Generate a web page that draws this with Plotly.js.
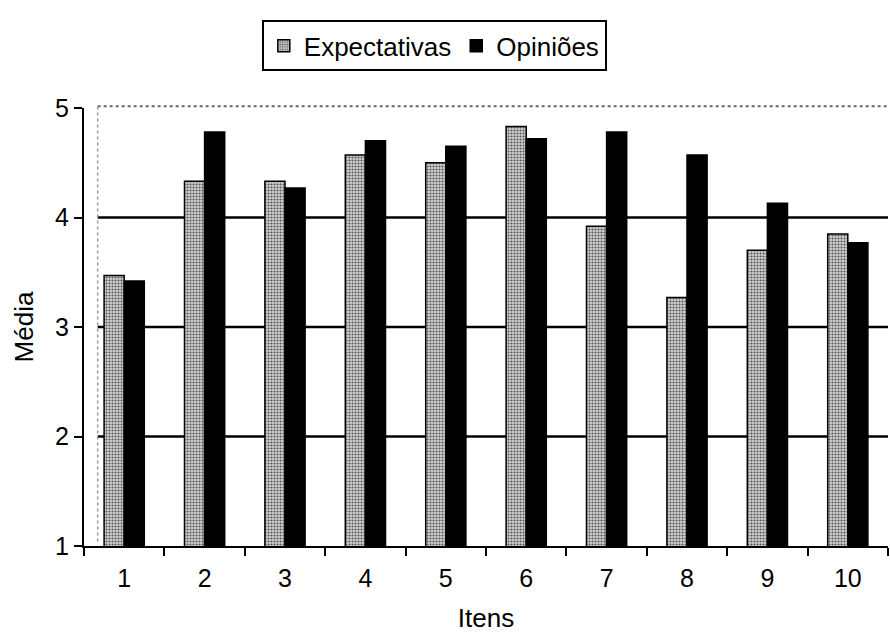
<!DOCTYPE html>
<html>
<head>
<meta charset="utf-8">
<script src="https://cdn.plot.ly/plotly-3.0.1.min.js"></script>
<style>html,body{margin:0;padding:0;background:#fff;}#chart{width:890px;height:633px;}</style>
</head>
<body>
<div id="chart"></div>
<script>
const itens = ["1","2","3","4","5","6","7","8","9","10"];
const expectativas = [3.47, 4.33, 4.33, 4.57, 4.50, 4.83, 3.92, 3.27, 3.70, 3.85];
const opinioes = [3.42, 4.78, 4.27, 4.70, 4.65, 4.72, 4.78, 4.57, 4.13, 3.77];
const yTicks = [1, 2, 3, 4, 5];

const font = "Liberation Sans, Arial, sans-serif";

const traces = [
  {
    type: "bar", name: "Expectativas", x: itens, y: expectativas,
    marker: {
      color: "#c0c0c0",
      line: {color: "#000", width: 1.5},
      pattern: {shape: ".", bgcolor: "#d2d2d2", fgcolor: "#555", size: 3, solidity: 0.4, fillmode: "replace"}
    }
  },
  {
    type: "bar", name: "Opiniões", x: itens, y: opinioes,
    marker: {color: "#000", line: {color: "#000", width: 1.5}}
  }
];

const gridShapes = yTicks.filter(v => v > 1 && v < 5).map(v => ({
  type: "line", xref: "paper", yref: "y", x0: 0.017, x1: 1, y0: v, y1: v,
  line: {color: "#000", width: 2.5}, layer: "below"
}));

const layout = {
  width: 890, height: 633,
  margin: {l: 84, r: 2, t: 108, b: 87},
  paper_bgcolor: "#fff", plot_bgcolor: "#fff",
  font: {family: font, color: "#000", size: 25},
  barmode: "group", bargap: 0.5, bargroupgap: 0,
  showlegend: true,
  legend: {
    orientation: "h", xref: "container", yref: "container",
    x: 0.488, xanchor: "center", y: 0.968, yanchor: "top",
    bordercolor: "#000", borderwidth: 2, bgcolor: "#fff",
    font: {family: font, size: 26, color: "#000"},
    itemwidth: 30, tracegroupgap: 0
  },
  xaxis: {
    type: "category", tickson: "boundaries",
    showline: true, linecolor: "#000", linewidth: 2,
    ticks: "outside", ticklen: 8, tickwidth: 2, tickcolor: "#000",
    ticklabelstandoff: 9,
    tickfont: {family: font, size: 25},
    showgrid: false, zeroline: false,
    title: {text: "Itens", font: {family: font, size: 26}, standoff: 20}
  },
  yaxis: {
    range: [1, 5], tickvals: yTicks, ticktext: yTicks.map(String),
    showline: true, linecolor: "#000", linewidth: 2,
    ticks: "outside", ticklen: 8, tickwidth: 2, tickcolor: "#000",
    ticklabelstandoff: 0,
    tickfont: {family: font, size: 25},
    showgrid: false, zeroline: false,
    title: {text: "Média", font: {family: font, size: 26}, standoff: 14}
  },
  shapes: gridShapes.concat([
    {type: "line", xref: "paper", yref: "paper", x0: 0.017, x1: 1, y0: 1.004, y1: 1.004,
     line: {color: "#666", width: 2, dash: "dot"}, layer: "below"},
    {type: "line", xref: "paper", yref: "paper", x0: 0.017, x1: 0.017, y0: 0.01, y1: 1.004,
     line: {color: "#999", width: 1.5, dash: "dot"}, layer: "below"}
  ])
};

Plotly.newPlot("chart", traces, layout, {displayModeBar: false, staticPlot: true});
</script>
</body>
</html>
